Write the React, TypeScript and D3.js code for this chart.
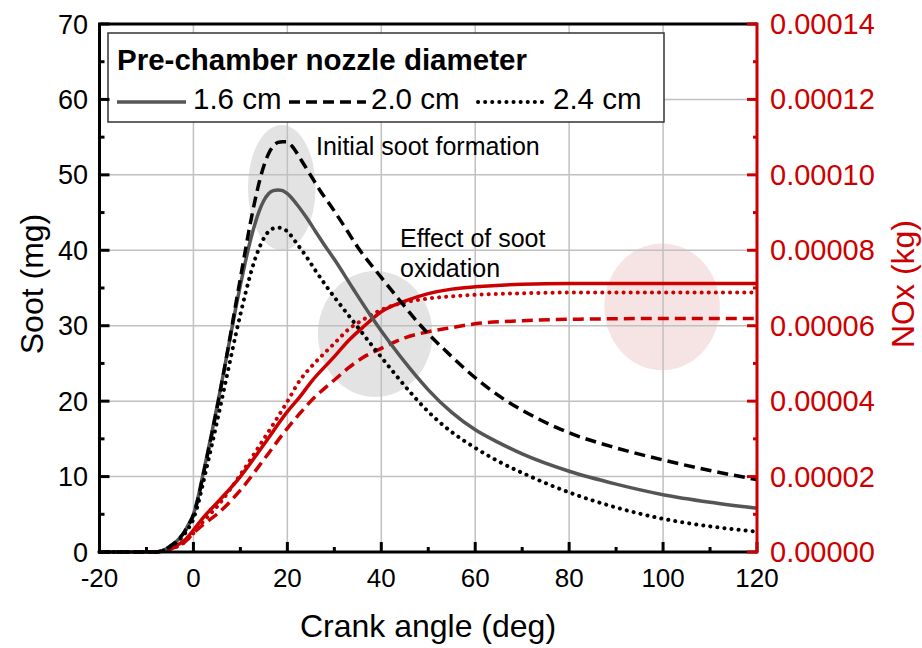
import React from "react";
import * as d3 from "d3";

// Crank angle (deg) sample points and soot (mg) values
const sootX16 = [-20, -10, -8, -7, -6, -5, -4, -3, -2, -1, 0, 1, 2, 3, 4, 5, 6, 7, 8, 9, 10, 11, 12, 13, 14, 15, 16, 17, 18, 19, 20, 22, 24, 26, 28, 30, 34, 38, 42, 46, 50, 55, 60, 65, 70, 80, 90, 100, 110, 120];
const soot16 = [0, 0, 0, 0.1, 0.35, 0.75, 1.2, 1.8, 2.6, 3.7, 5.0, 7.3, 10.2, 13.1, 16.1, 19.2, 22.4, 25.7, 29.0, 32.3, 35.4, 38.3, 41.0, 43.3, 45.2, 46.6, 47.5, 47.9, 48.0, 47.9, 47.5, 46.1, 44.4, 42.5, 40.6, 38.8, 34.9, 31.1, 27.6, 24.4, 21.5, 18.5, 16.2, 14.5, 13.0, 10.7, 9.0, 7.6, 6.6, 5.8];

const sootX20 = [-20, -10, -8, -7, -6, -5, -4, -3, -2, -1, 0, 1, 2, 3, 4, 5, 6, 7, 8, 9, 10, 11, 12, 13, 14, 15, 16, 17, 18, 19, 19.8, 21, 23, 25, 27, 30, 32, 35, 40, 44, 48, 55, 60, 66, 70, 80, 90, 100, 110, 120];
const soot20 = [0, 0, 0, 0.1, 0.35, 0.75, 1.2, 1.8, 2.6, 3.6, 4.9, 7.1, 10.0, 12.9, 15.9, 19.0, 22.3, 25.7, 29.2, 32.8, 36.3, 39.8, 43.2, 46.3, 49.0, 51.2, 52.8, 53.8, 54.3, 54.4, 54.4, 53.8, 51.9, 49.9, 47.9, 45.2, 43.3, 40.4, 36.4, 33.3, 30.3, 25.9, 23.1, 20.3, 18.8, 15.8, 13.8, 12.2, 10.8, 9.6];

const sootX24 = [-20, -10, -8, -7, -6, -5, -4, -3, -2, -1, 0, 1, 2, 3, 4, 5, 6, 7, 8, 9, 10, 11, 12, 13, 14, 15, 16, 17, 18, 19, 20, 22, 24, 26, 28, 30, 32, 35, 38, 42, 46, 50, 55, 60, 65, 70, 80, 90, 100, 110, 120];
const soot24 = [0, 0, 0, 0.08, 0.3, 0.65, 1.05, 1.6, 2.3, 3.2, 4.4, 6.4, 9.0, 11.7, 14.4, 17.2, 20.1, 23.0, 25.9, 28.8, 31.5, 34.1, 36.5, 38.6, 40.3, 41.6, 42.5, 42.9, 43.0, 42.9, 42.5, 40.9, 39.2, 37.3, 35.5, 33.8, 32.2, 29.8, 27.4, 24.3, 21.3, 18.6, 15.9, 13.8, 12.0, 10.5, 7.9, 5.9, 4.4, 3.4, 2.7];

// NOx (kg) values
const noxX = [-20, -8, -6, -4, -2, 0, 2, 5, 10, 15, 20, 22.7, 25, 30, 33, 36, 40, 45, 50, 55, 60, 70, 80, 100, 120];
const nox16 = [0, 0, 0.05, 0.15, 0.3, 0.58, 0.9, 1.3, 2.0, 2.85, 3.72, 4.12, 4.5, 5.18, 5.6, 5.95, 6.37, 6.65, 6.85, 6.97, 7.03, 7.1, 7.12, 7.12, 7.12].map((v) => v * 1e-5);
const nox20 = [0, 0, 0.04, 0.12, 0.25, 0.5, 0.72, 1.0, 1.64, 2.45, 3.28, 3.68, 4.0, 4.56, 4.88, 5.15, 5.4, 5.68, 5.84, 5.95, 6.05, 6.13, 6.17, 6.19, 6.19].map((v) => v * 1e-5);
const nox24 = [0, 0, 0.04, 0.12, 0.25, 0.5, 0.8, 1.2, 2.05, 3.0, 3.99, 4.56, 4.9, 5.53, 5.9, 6.15, 6.42, 6.62, 6.72, 6.78, 6.82, 6.86, 6.88, 6.88, 6.88].map((v) => v * 1e-5);

const xTicks = [-20, 0, 20, 40, 60, 80, 100, 120];
const yLTicks = [0, 10, 20, 30, 40, 50, 60, 70];
const yRTicks = [0, 0.00002, 0.00004, 0.00006, 0.00008, 0.0001, 0.00012, 0.00014];
const legendLabels = ["1.6 cm", "2.0 cm", "2.4 cm"];

// highlight ellipses: [cx deg, cy mg, rx deg, ry mg]
const ellipses = [
  { cx: 18.8, cy: 48.3, rx: 7.2, ry: 8.3, kind: "gray" },
  { cx: 38.7, cy: 28.9, rx: 12.2, ry: 8.35, kind: "gray" },
  { cx: 99.8, cy: 32.5, rx: 12.3, ry: 8.4, kind: "pink" },
];

const FONT = "'Liberation Sans', Arial, Helvetica, sans-serif";
const RED = "#cc0000";
const GRAY = "#555555";

export default function App() {
  const W = 922, H = 648;
  const x = d3.scaleLinear().domain([-20, 120]).range([99.5, 757]);
  const yL = d3.scaleLinear().domain([0, 70]).range([552, 24]);
  const yR = d3.scaleLinear().domain([0, 0.00014]).range([552, 24]);

  const lineL = (xs: number[], ys: number[]) =>
    d3.line<number>().x((_, i) => x(xs[i])).y((d) => yL(d)).curve(d3.curveMonotoneX)(ys) || "";
  const lineR = (xs: number[], ys: number[]) =>
    d3.line<number>().x((_, i) => x(xs[i])).y((d) => yR(d)).curve(d3.curveMonotoneX)(ys) || "";

  const styles = [
    { dash: undefined as string | undefined, cap: "butt", w: 3.5 },
    { dash: "11,6", cap: "butt", w: 3.5 },
    { dash: "0.1,7", cap: "round", w: 4 },
  ];

  const xMinor = d3.range(-10, 120, 20);
  const yLMinor = d3.range(5, 70, 10);
  const yRMinor = d3.range(0.00001, 0.00014, 0.00002);

  const left = x(-20), right = x(120), top = yL(70), bottom = yL(0);

  const legendItems = [
    { x1: 117, x2: 186, tx: 193 },
    { x1: 289, x2: 366, tx: 371 },
    { x1: 478, x2: 545, tx: 553 },
  ];

  return (
    <svg width={W} height={H} style={{ display: "block", position: "absolute", left: 0, top: 0, fontFamily: FONT }}>
      <rect width={W} height={H} fill="#fff" />
      {/* ellipses */}
      {ellipses.map((e, i) => (
        <ellipse key={i} cx={x(e.cx)} cy={yL(e.cy)} rx={x(e.cx + e.rx) - x(e.cx)} ry={yL(e.cy - e.ry) - yL(e.cy)}
          fill={e.kind === "gray" ? "#e3e3e3" : "#f6e4e4"} />
      ))}
      {/* grid */}
      {xTicks.slice(1, -1).map((t) => (
        <line key={"gx" + t} x1={x(t)} x2={x(t)} y1={top} y2={bottom} stroke="#c0c0c0" strokeWidth={1.5} />
      ))}
      {yLTicks.slice(1, -1).map((t) => (
        <line key={"gy" + t} x1={left} x2={right} y1={yL(t)} y2={yL(t)} stroke="#c0c0c0" strokeWidth={1.5} />
      ))}
      {/* legend box */}
      <rect x={108} y={33} width={556} height={89} fill="#fff" stroke="#333" strokeWidth={1.5} />
      <text x={117} y={70} fontSize={29.5} fontWeight="bold" fill="#000">Pre-chamber nozzle diameter</text>
      {legendItems.map((p, i) => (
        <g key={"lg" + i}>
          <line x1={p.x1} x2={p.x2} y1={102} y2={102} stroke={i === 0 ? GRAY : "#000"} strokeWidth={styles[i].w}
            strokeDasharray={styles[i].dash} strokeLinecap={styles[i].cap as any} />
          <text x={p.tx} y={109} fontSize={29.5} fill="#000">{legendLabels[i]}</text>
        </g>
      ))}
      {/* annotations */}
      <text x={316} y={155} fontSize={25} fill="#000">Initial soot formation</text>
      <text x={400} y={247} fontSize={25} fill="#000">Effect of soot</text>
      <text x={400} y={277} fontSize={25} fill="#000">oxidation</text>
      {/* NOx curves */}
      {[nox16, nox20, nox24].map((ys, i) => (
        <path key={"n" + i} d={lineR(noxX, ys)} fill="none" stroke={RED} strokeWidth={styles[i].w}
          strokeDasharray={styles[i].dash} strokeLinecap={styles[i].cap as any} />
      ))}
      {/* soot curves */}
      <path d={lineL(sootX16, soot16)} fill="none" stroke={GRAY} strokeWidth={3.5} />
      <path d={lineL(sootX20, soot20)} fill="none" stroke="#000" strokeWidth={3.5} strokeDasharray={styles[1].dash} />
      <path d={lineL(sootX24, soot24)} fill="none" stroke="#000" strokeWidth={4} strokeDasharray={styles[2].dash} strokeLinecap="round" />
      {/* frame */}
      <line x1={left - 1.5} x2={right} y1={top} y2={top} stroke="#000" strokeWidth={3} />
      <line x1={left} x2={left} y1={top} y2={bottom} stroke="#000" strokeWidth={3} />
      <line x1={left - 1.5} x2={right} y1={bottom} y2={bottom} stroke="#000" strokeWidth={3} />
      {/* bottom ticks */}
      {xTicks.map((t) => (
        <g key={"xt" + t}>
          <line x1={x(t)} x2={x(t)} y1={bottom} y2={bottom - 10} stroke="#000" strokeWidth={3} />
          <text x={x(t)} y={587} fontSize={26} textAnchor="middle" fill="#000">{t}</text>
        </g>
      ))}
      {xMinor.map((t) => (
        <line key={"xm" + t} x1={x(t)} x2={x(t)} y1={bottom} y2={bottom - 5} stroke="#000" strokeWidth={3} />
      ))}
      {/* left ticks */}
      {yLTicks.map((t) => (
        <g key={"yl" + t}>
          <line x1={left} x2={left + 10} y1={yL(t)} y2={yL(t)} stroke="#000" strokeWidth={3} />
          <text x={88} y={yL(t) + 9.5} fontSize={27} textAnchor="end" fill="#000">{t}</text>
        </g>
      ))}
      {yLMinor.map((t) => (
        <line key={"ylm" + t} x1={left} x2={left + 5} y1={yL(t)} y2={yL(t)} stroke="#000" strokeWidth={3} />
      ))}
      {/* right axis */}
      <line x1={right} x2={right} y1={top - 1.5} y2={bottom + 1.5} stroke={RED} strokeWidth={3} />
      {yRTicks.map((t) => (
        <g key={"yr" + t}>
          <line x1={right} x2={right - 10} y1={yR(t)} y2={yR(t)} stroke={RED} strokeWidth={3} />
          <text x={770} y={yR(t) + 10} fontSize={29} fill={RED}>{t.toFixed(5)}</text>
        </g>
      ))}
      {yRMinor.map((t) => (
        <line key={"yrm" + t} x1={right} x2={right - 4} y1={yR(t)} y2={yR(t)} stroke={RED} strokeWidth={3} />
      ))}
      {/* axis titles */}
      <text x={428} y={637} fontSize={32} textAnchor="middle" fill="#000">Crank angle (deg)</text>
      <text transform={`translate(43,284) rotate(-90)`} fontSize={32} textAnchor="middle" fill="#000">Soot (mg)</text>
      <text transform={`translate(914,284) rotate(-90)`} fontSize={32} textAnchor="middle" fill={RED}>NOx (kg)</text>
    </svg>
  );
}
